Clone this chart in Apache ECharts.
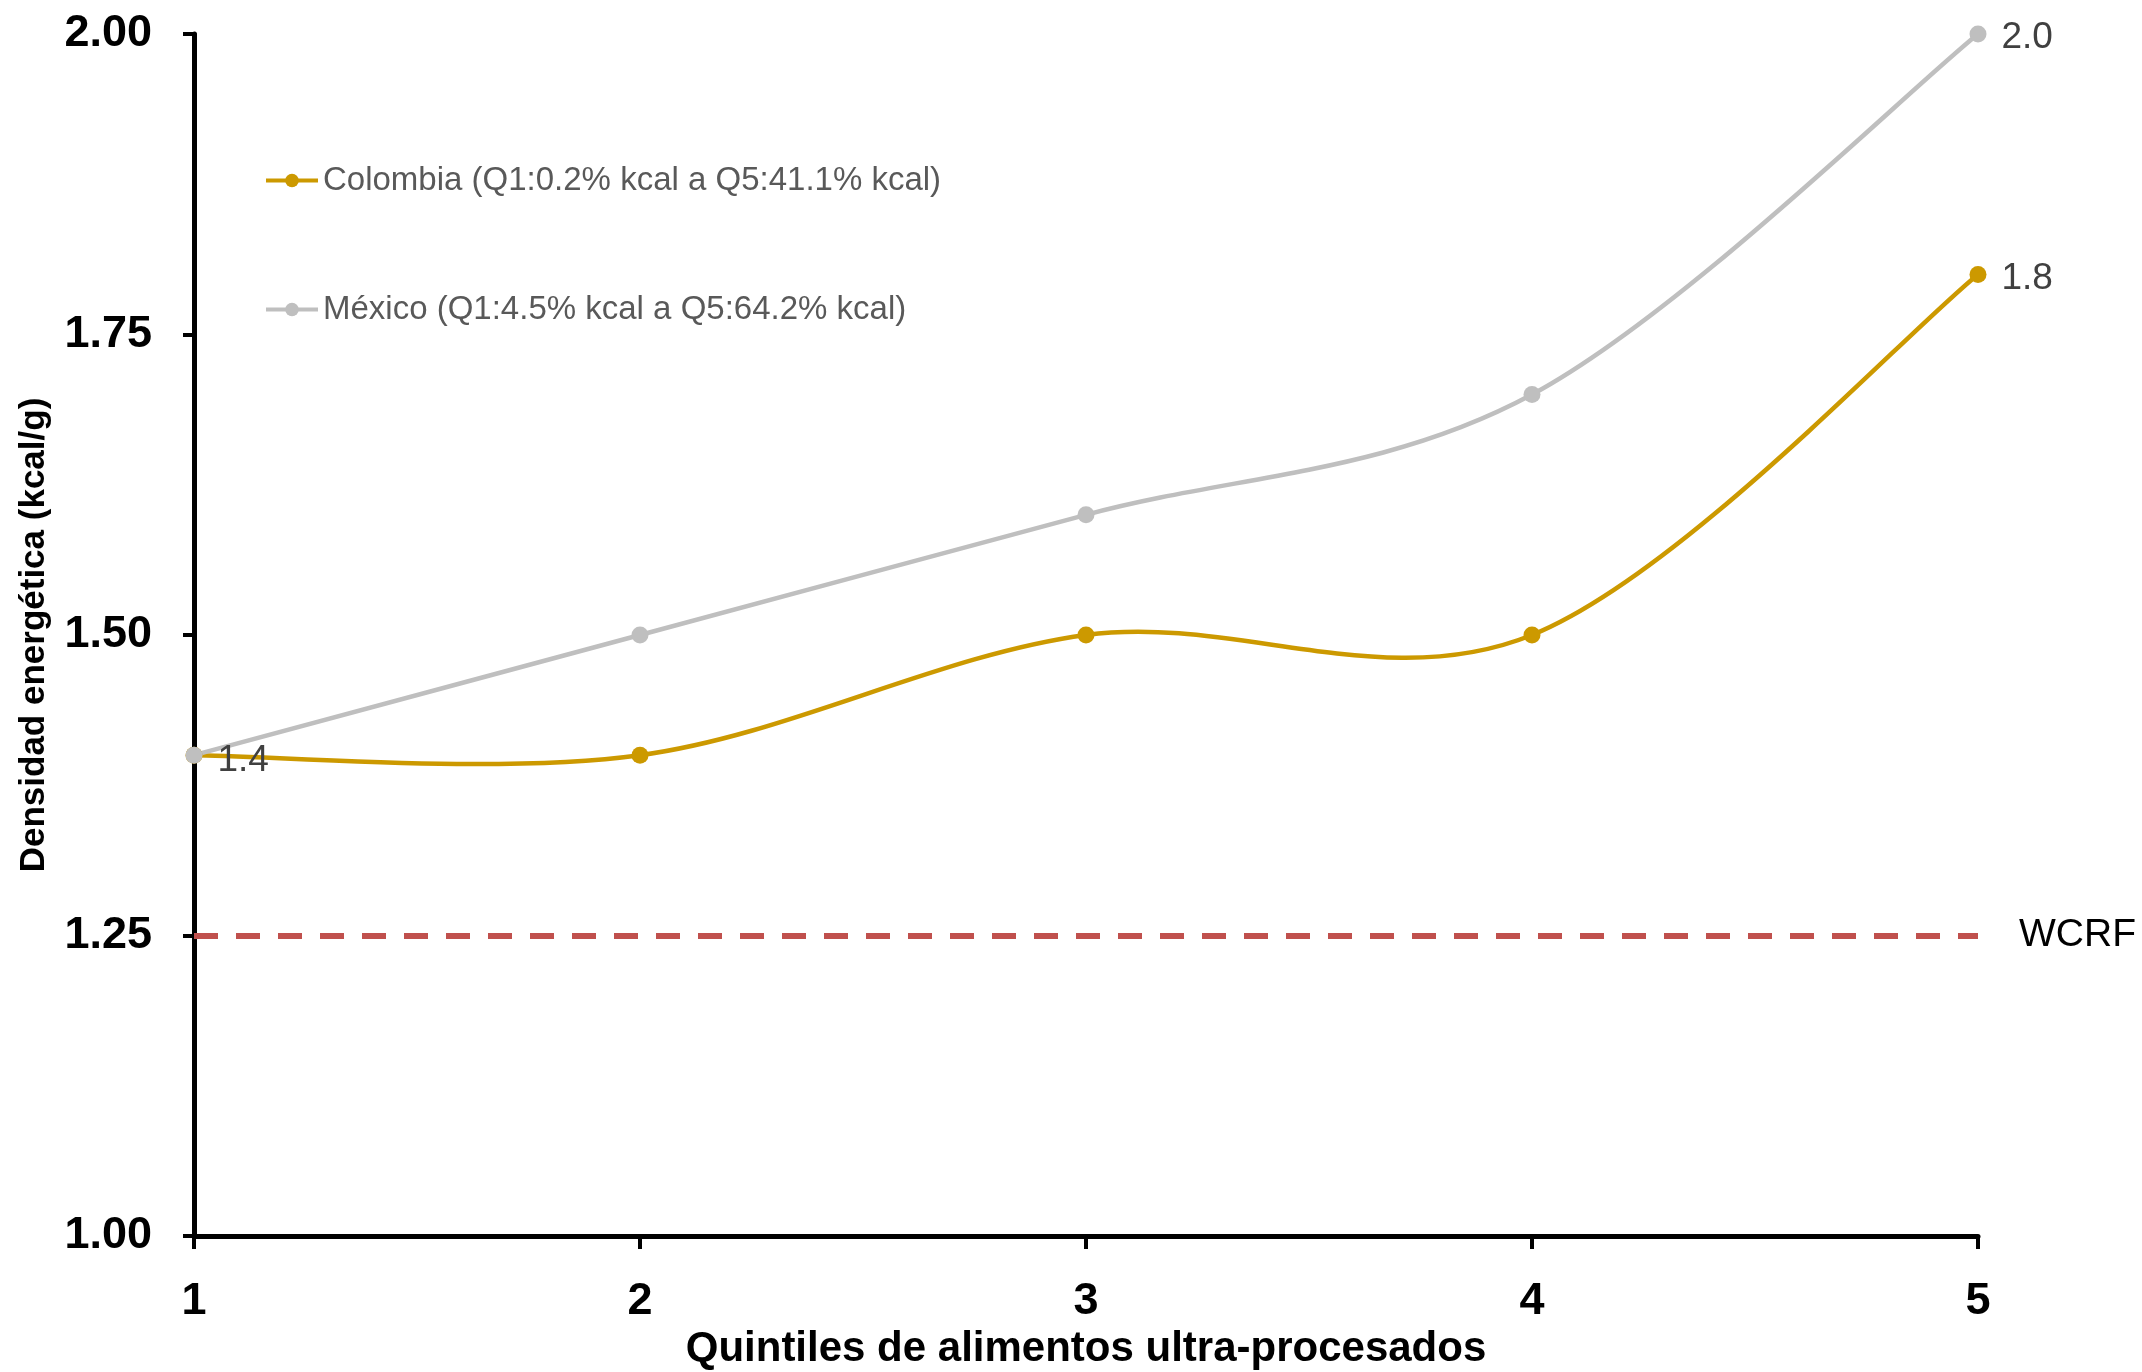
<!DOCTYPE html>
<html>
<head>
<meta charset="utf-8">
<script src="https://cdn.jsdelivr.net/npm/echarts@6/dist/echarts.min.js"></script>
<style>
html,body{margin:0;padding:0;background:#fff;}
#chart{width:2142px;height:1372px;}
</style>
</head>
<body>
<div id="chart"></div>
<script>
// ---- data ----
const categories = ['1', '2', '3', '4', '5'];
const colombia = [1.4, 1.4, 1.5, 1.5, 1.8];
const mexico = [1.4, 1.5, 1.6, 1.7, 2.0];
const wcrfValue = 1.25;
const wcrfLabel = 'WCRF';
const seriesNames = ['Colombia (Q1:0.2% kcal a Q5:41.1% kcal)', 'México (Q1:4.5% kcal a Q5:64.2% kcal)'];
const yTicks = { min: 1.0, max: 2.0, interval: 0.25 };
const colombiaLabelIdx = [4];
const mexicoLabelIdx = [0, 4];

const COL_C = '#CC9900';
const COL_M = '#BFBFBF';
const LINE_W = 4.5;
const sansR = '"Liberation Sans", Arial, sans-serif';

function labelFmt(idx) {
  return p => idx.includes(p.dataIndex) ? Number(p.value).toFixed(1) : '';
}

// Excel-like smoothed curve (Catmull-Rom style Bezier) drawn through the axis scales
function smoothRenderer(values, color) {
  return function (params, api) {
    const i = params.dataIndex;
    const n = values.length;
    if (i >= n - 1) return null;
    const P = k => {
      const kk = Math.max(0, Math.min(n - 1, k));
      return api.coord([kk, values[kk]]);
    };
    const p0 = P(i - 1), p1 = P(i), p2 = P(i + 1), p3 = P(i + 2);
    const t = 1 / 6;
    return {
      type: 'bezierCurve',
      shape: {
        x1: p1[0], y1: p1[1], x2: p2[0], y2: p2[1],
        cpx1: p1[0] + (p2[0] - p0[0]) * t, cpy1: p1[1] + (p2[1] - p0[1]) * t,
        cpx2: p2[0] - (p3[0] - p1[0]) * t, cpy2: p2[1] - (p3[1] - p1[1]) * t
      },
      style: { stroke: color, lineWidth: LINE_W, fill: null, lineCap: 'round' },
      silent: true
    };
  };
}

const chart = echarts.init(document.getElementById('chart'), null, { renderer: 'canvas' });
chart.setOption({
  animation: false,
  backgroundColor: '#ffffff',
  grid: { left: 194, right: 164, top: 34, bottom: 136, containLabel: false, outerBoundsMode: 'none' },
  legend: {
    orient: 'vertical',
    left: 259,
    top: 159,
    itemWidth: 52,
    itemHeight: 17,
    itemGap: 96,
    lineStyle: { opacity: 1, width: 4 },
    textStyle: { fontFamily: sansR, fontSize: 33, color: '#595959', lineHeight: 32 },
    data: seriesNames
  },
  xAxis: {
    type: 'category',
    data: categories,
    boundaryGap: false,
    name: 'Quintiles de alimentos ultra-procesados',
    nameLocation: 'middle',
    nameGap: 80,
    nameTextStyle: { fontFamily: sansR, fontSize: 42, fontWeight: 'bold', color: '#000' },
    axisLine: { lineStyle: { color: '#000', width: 5 } },
    axisTick: { show: true, length: 13, lineStyle: { color: '#000', width: 4 }, alignWithLabel: true },
    axisLabel: { margin: 43, fontFamily: sansR, fontSize: 45, fontWeight: 'bold', color: '#000' },
    splitLine: { show: false }
  },
  yAxis: {
    type: 'value',
    min: yTicks.min,
    max: yTicks.max,
    interval: yTicks.interval,
    name: 'Densidad energética (kcal/g)',
    nameLocation: 'middle',
    nameGap: 142,
    nameTextStyle: { fontFamily: sansR, fontSize: 35, fontWeight: 'bold', color: '#000' },
    axisLine: { show: true, lineStyle: { color: '#000', width: 5 } },
    axisTick: { show: true, length: 11, lineStyle: { color: '#000', width: 4 } },
    axisLabel: { margin: 42, fontFamily: sansR, fontSize: 45, fontWeight: 'bold', color: '#000',
      formatter: v => v.toFixed(2) },
    splitLine: { show: false }
  },
  series: [
    {
      name: 'colombia-curve',
      type: 'custom',
      renderItem: smoothRenderer(colombia, COL_C),
      data: colombia.map((v, i) => [i, v]),
      encode: { x: 0, y: 1 },
      silent: true,
      z: 2
    },
    {
      name: 'mexico-curve',
      type: 'custom',
      renderItem: smoothRenderer(mexico, COL_M),
      data: mexico.map((v, i) => [i, v]),
      encode: { x: 0, y: 1 },
      silent: true,
      z: 3
    },
    {
      name: seriesNames[0],
      type: 'line',
      data: colombia,
      symbol: 'circle',
      symbolSize: 17,
      color: COL_C,
      lineStyle: { color: COL_C, width: LINE_W, opacity: 0 },
      itemStyle: { color: COL_C },
      label: { show: true, position: 'right', distance: 15, offset: [0, 4], fontFamily: sansR, fontSize: 37, color: '#404040',
        formatter: labelFmt(colombiaLabelIdx) },
      markLine: {
        silent: true,
        symbol: ['none', 'none'],
        lineStyle: { color: '#C0504D', width: 6, type: [24, 18] },
        label: { show: true, position: 'end', distance: 41, formatter: wcrfLabel, fontFamily: sansR, fontSize: 39, color: '#000' },
        data: [[{ coord: [0, wcrfValue] }, { coord: [categories.length - 1, wcrfValue] }]]
      },
      z: 4
    },
    {
      name: seriesNames[1],
      type: 'line',
      data: mexico.map((v, i) => i === 0 ? { value: v, label: { offset: [0, 6] } } : v),
      symbol: 'circle',
      symbolSize: 17,
      color: COL_M,
      lineStyle: { color: COL_M, width: LINE_W, opacity: 0 },
      itemStyle: { color: COL_M },
      label: { show: true, position: 'right', distance: 15, offset: [0, 4], fontFamily: sansR, fontSize: 37, color: '#404040',
        formatter: labelFmt(mexicoLabelIdx) },
      z: 5
    }
  ]
});
</script>
</body>
</html>
